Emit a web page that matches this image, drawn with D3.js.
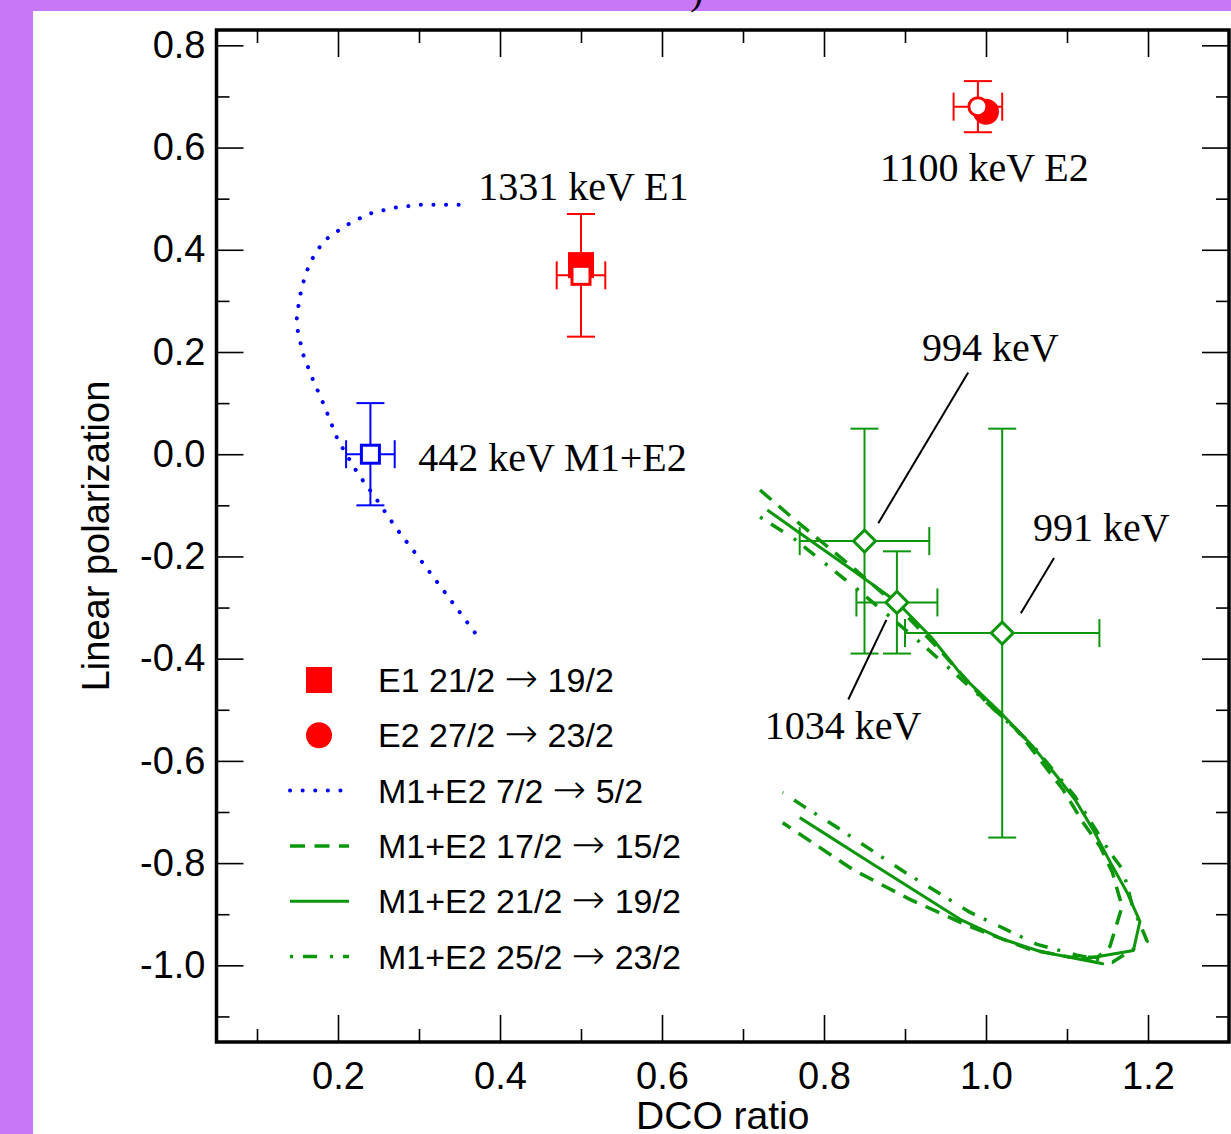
<!DOCTYPE html>
<html>
<head>
<meta charset="utf-8">
<script src="https://cdn.jsdelivr.net/npm/d3@7"></script>
<style>
  body { margin: 0; background: #c878f5; }
  svg { display: block; }
</style>
</head>
<body>
<div id="figure"></div>
<script>
// tick values
var xMajor = [0.2, 0.4, 0.6, 0.8, 1.0, 1.2];
var xMinor = [0.1, 0.3, 0.5, 0.7, 0.9, 1.1];
var yMajor = [-1.0, -0.8, -0.6, -0.4, -0.2, 0.0, 0.2, 0.4, 0.6, 0.8];
var yMinor = [-1.1, -0.9, -0.7, -0.5, -0.3, -0.1, 0.1, 0.3, 0.5, 0.7];

// measured points: [dco, dco error, polarization, polarization error]
var e1Measured = [[0.50, 0.03, 0.35, 0.12]];
var e2Measured = [[0.99, 0.03, 0.68, 0.05]];
var m1Measured = [[0.24, 0.03, 0.00, 0.10]];
var greenMeasured = [[0.85, 0.08, -0.17, 0.22], [0.89, 0.05, -0.29, 0.10], [1.02, 0.12, -0.35, 0.40]];

// calculated values for pure transitions: [dco, polarization]
var e1Theory = [[0.50, 0.37]];
var e2Theory = [[1.00, 0.67]];

// mixing-ratio curves: [dco, polarization]
var curve7to5 = [[0.349, 0.488], [0.301, 0.488], [0.268, 0.482], [0.237, 0.470], [0.209, 0.447],
  [0.182, 0.417], [0.165, 0.374], [0.155, 0.326], [0.149, 0.270], [0.150, 0.244], [0.157, 0.195],
  [0.169, 0.146], [0.182, 0.099], [0.200, 0.027], [0.225, -0.039], [0.244, -0.080], [0.272, -0.145],
  [0.301, -0.205], [0.330, -0.266], [0.369, -0.349]];
var curve17to15 = [[0.721, -0.070], [0.760, -0.123], [0.835, -0.221], [0.885, -0.289], [0.943, -0.383],
  [1.001, -0.486], [1.038, -0.539], [1.095, -0.656], [1.120, -0.721], [1.141, -0.768], [1.156, -0.818],
  [1.168, -0.885], [1.153, -0.963], [1.138, -0.984], [1.104, -0.984], [1.054, -0.969], [0.980, -0.924],
  [0.906, -0.871], [0.836, -0.813], [0.749, -0.721]];
var curve21to19 = [[0.730, -0.109], [0.770, -0.154], [0.832, -0.223], [0.890, -0.289], [0.933, -0.359],
  [0.972, -0.436], [1.017, -0.504], [1.058, -0.572], [1.086, -0.627], [1.110, -0.676], [1.132, -0.734],
  [1.153, -0.797], [1.174, -0.857], [1.190, -0.914], [1.182, -0.971], [1.119, -0.988], [1.144, -0.997],
  [1.067, -0.973], [1.021, -0.949], [0.968, -0.910], [0.857, -0.799], [0.770, -0.711]];
var curve25to23 = [[0.721, -0.123], [0.762, -0.164], [0.838, -0.260], [0.912, -0.359], [0.947, -0.408],
  [0.984, -0.461], [1.058, -0.570], [1.110, -0.670], [1.153, -0.779], [1.169, -0.813], [1.181, -0.885],
  [1.199, -0.953], [1.181, -0.969], [1.156, -0.994], [1.112, -0.980], [1.063, -0.959], [0.980, -0.896],
  [0.898, -0.816], [0.816, -0.730], [0.774, -0.688], [0.749, -0.662]];

// annotations: [text, dco, polarization]
var labels = [["1331 keV E1", 0.373, 0.498], ["1100 keV E2", 0.869, 0.535], ["994 keV", 0.921, 0.182],
  ["442 keV M1+E2", 0.299, -0.033], ["991 keV", 1.058, -0.170], ["1034 keV", 0.727, -0.557]];
var leaders = [[[0.867, -0.135], [0.978, 0.160]], [[1.043, -0.311], [1.084, -0.203]],
  [[0.877, -0.324], [0.830, -0.480]]];

// legend: [from, to]
var legendLabels = [["E1 21/2", "19/2"], ["E2 27/2", "23/2"], ["M1+E2 7/2", "5/2"],
  ["M1+E2 17/2", "15/2"], ["M1+E2 21/2", "19/2"], ["M1+E2 25/2", "23/2"]];
var legendKinds = ["square", "circle", "dotted", "dashed", "solid", "dashdot"];

var red = "#ff0000", blue = "#0000ff", green = "#0c960c";
var styles = {
  dotted: {color: blue, width: 4, dash: "0.1 12.5", cap: "round"},
  dashed: {color: green, width: 3.5, dash: "15 9.5", cap: "butt"},
  solid: {color: green, width: 3, dash: null, cap: "butt"},
  dashdot: {color: green, width: 3.5, dash: "3 10 14 13", cap: "butt"}
};

const W = 1231, H = 1134;
const svg = d3.select("#figure").append("svg").attr("width", W).attr("height", H);
svg.append("rect").attr("width", W).attr("height", H).attr("fill", "#c878f5");
svg.append("rect").attr("x", 33).attr("y", 11).attr("width", W - 33).attr("height", H - 11).attr("fill", "#fff");

// cut-off label from the figure above
svg.append("text").attr("x", 690).attr("y", 4).attr("font-family", "Liberation Serif")
  .attr("font-size", 40).text(")");

const pLeft = 216.5, pRight = 1229, pTop = 30, pBottom = 1042;
const x = d3.scaleLinear().domain([0.05, 1.3]).range([pLeft, pRight]);
const y = d3.scaleLinear().domain([-1.15, 0.83]).range([pBottom, pTop]);

const sans = "Liberation Sans, Arial, sans-serif";
const serif = "Liberation Serif, Times New Roman, serif";
const fmt = d => d.toFixed(1);

function styleAxis(g) {
  g.select(".domain").remove();
  g.selectAll(".tick line").attr("stroke", "#000").attr("stroke-width", 1.6);
  g.selectAll(".tick text").attr("font-family", sans).attr("font-size", 38).attr("fill", "#000");
}

// bottom / left with labels
svg.append("g").attr("transform", `translate(0,${pBottom})`)
  .call(d3.axisBottom(x).tickValues(xMajor).tickSize(-27).tickPadding(20).tickFormat(fmt)).call(styleAxis);
svg.append("g").attr("transform", `translate(0,${pBottom})`)
  .call(d3.axisBottom(x).tickValues(xMinor).tickSize(-13).tickFormat("")).call(styleAxis);
svg.append("g").attr("transform", `translate(${pLeft},0)`)
  .call(d3.axisLeft(y).tickValues(yMajor).tickSize(-27).tickPadding(11).tickFormat(fmt)).call(styleAxis);
svg.append("g").attr("transform", `translate(${pLeft},0)`)
  .call(d3.axisLeft(y).tickValues(yMinor).tickSize(-13).tickFormat("")).call(styleAxis);
// mirrored top / right
svg.append("g").attr("transform", `translate(0,${pTop})`)
  .call(d3.axisTop(x).tickValues(xMajor).tickSize(-27).tickFormat("")).call(styleAxis);
svg.append("g").attr("transform", `translate(0,${pTop})`)
  .call(d3.axisTop(x).tickValues(xMinor).tickSize(-13).tickFormat("")).call(styleAxis);
svg.append("g").attr("transform", `translate(${pRight},0)`)
  .call(d3.axisRight(y).tickValues(yMajor).tickSize(-27).tickFormat("")).call(styleAxis);
svg.append("g").attr("transform", `translate(${pRight},0)`)
  .call(d3.axisRight(y).tickValues(yMinor).tickSize(-13).tickFormat("")).call(styleAxis);

svg.append("rect").attr("x", pLeft).attr("y", pTop).attr("width", pRight - pLeft).attr("height", pBottom - pTop)
  .attr("fill", "none").attr("stroke", "#000").attr("stroke-width", 3.5);

// axis titles
svg.append("text").attr("x", (pLeft + pRight) / 2).attr("y", 1129).attr("text-anchor", "middle")
  .attr("font-family", sans).attr("font-size", 39).text("DCO ratio");
svg.append("text").attr("transform", `translate(109,${(pTop + pBottom) / 2}) rotate(-90)`)
  .attr("text-anchor", "middle").attr("font-family", sans).attr("font-size", 38).text("Linear polarization");

// curves
const line = d3.line().x(d => x(d[0])).y(d => y(d[1]));
function drawCurve(data, st) {
  svg.append("path").datum(data).attr("d", line).attr("fill", "none")
    .attr("stroke", st.color).attr("stroke-width", st.width)
    .attr("stroke-dasharray", st.dash).attr("stroke-linecap", st.cap).attr("stroke-linejoin", "round");
}
drawCurve(curve7to5, styles.dotted);
drawCurve(curve17to15, styles.dashed);
drawCurve(curve21to19, styles.solid);
drawCurve(curve25to23, styles.dashdot);

// theory markers
svg.selectAll(".e1t").data(e1Theory).join("rect").attr("class", "e1t")
  .attr("x", d => x(d[0]) - 13).attr("y", d => y(d[1]) - 13).attr("width", 26).attr("height", 26).attr("fill", red);
svg.selectAll(".e2t").data(e2Theory).join("circle").attr("class", "e2t")
  .attr("cx", d => x(d[0])).attr("cy", d => y(d[1])).attr("r", 13).attr("fill", red);

// error bars
function errorBars(data, color) {
  const g = svg.append("g").attr("stroke", color).attr("stroke-width", 2).attr("fill", "none");
  data.forEach(d => {
    const cx = x(d[0]), cy = y(d[2]);
    const x0 = x(d[0] - d[1]), x1 = x(d[0] + d[1]);
    const y0 = y(d[2] - d[3]), y1 = y(d[2] + d[3]);
    g.append("line").attr("x1", x0).attr("x2", x1).attr("y1", cy).attr("y2", cy);
    g.append("line").attr("x1", cx).attr("x2", cx).attr("y1", y0).attr("y2", y1);
    [x0, x1].forEach(v => g.append("line").attr("x1", v).attr("x2", v).attr("y1", cy - 14).attr("y2", cy + 14));
    [y0, y1].forEach(v => g.append("line").attr("y1", v).attr("y2", v).attr("x1", cx - 14).attr("x2", cx + 14));
  });
}
errorBars(e1Measured, red);
errorBars(e2Measured, red);
errorBars(m1Measured, blue);
errorBars(greenMeasured, green);

// measured markers
function squares(data, color) {
  svg.append("g").selectAll("rect").data(data).join("rect")
    .attr("x", d => x(d[0]) - 9).attr("y", d => y(d[2]) - 9).attr("width", 18).attr("height", 18)
    .attr("fill", "#fff").attr("stroke", color).attr("stroke-width", 3);
}
squares(e1Measured, red);
squares(m1Measured, blue);
svg.append("g").selectAll("circle").data(e2Measured).join("circle")
  .attr("cx", d => x(d[0])).attr("cy", d => y(d[2])).attr("r", 9)
  .attr("fill", "#fff").attr("stroke", red).attr("stroke-width", 3);
svg.append("g").selectAll("path").data(greenMeasured).join("path")
  .attr("d", d3.symbol().type(d3.symbolSquare).size(242))
  .attr("transform", d => `translate(${x(d[0])},${y(d[2])}) rotate(45)`)
  .attr("fill", "#fff").attr("stroke", green).attr("stroke-width", 3);

// leader lines and annotations
svg.append("g").selectAll("line").data(leaders).join("line")
  .attr("x1", d => x(d[0][0])).attr("y1", d => y(d[0][1]))
  .attr("x2", d => x(d[1][0])).attr("y2", d => y(d[1][1]))
  .attr("stroke", "#000").attr("stroke-width", 2);
svg.append("g").selectAll("text").data(labels).join("text")
  .attr("x", d => x(d[1])).attr("y", d => y(d[2]))
  .attr("font-family", serif).attr("font-size", 40).attr("fill", "#000").text(d => d[0]);

// legend
const legX = 319, legTextX = 378, legY0 = 680, legDy = 55.3;
legendKinds.forEach((k, i) => {
  const cy = legY0 + i * legDy;
  if (k === "square") {
    svg.append("rect").attr("x", legX - 13).attr("y", cy - 13).attr("width", 26).attr("height", 26).attr("fill", red);
  } else if (k === "circle") {
    svg.append("circle").attr("cx", legX).attr("cy", cy).attr("r", 13).attr("fill", red);
  } else {
    const st = styles[k];
    svg.append("line").attr("x1", 290).attr("x2", 349).attr("y1", cy).attr("y2", cy)
      .attr("stroke", st.color).attr("stroke-width", st.width)
      .attr("stroke-dasharray", st.dash).attr("stroke-linecap", st.cap);
  }
  const t = svg.append("text").attr("x", legTextX).attr("y", cy + 12)
    .attr("font-family", sans).attr("font-size", 34).attr("fill", "#000");
  t.append("tspan").text(legendLabels[i][0] + " ");
  t.append("tspan").attr("font-family", "DejaVu Sans").attr("font-size", 40).attr("font-weight", 200).text("\u2192");
  t.append("tspan").text(" " + legendLabels[i][1]);
});
</script>
</body>
</html>
